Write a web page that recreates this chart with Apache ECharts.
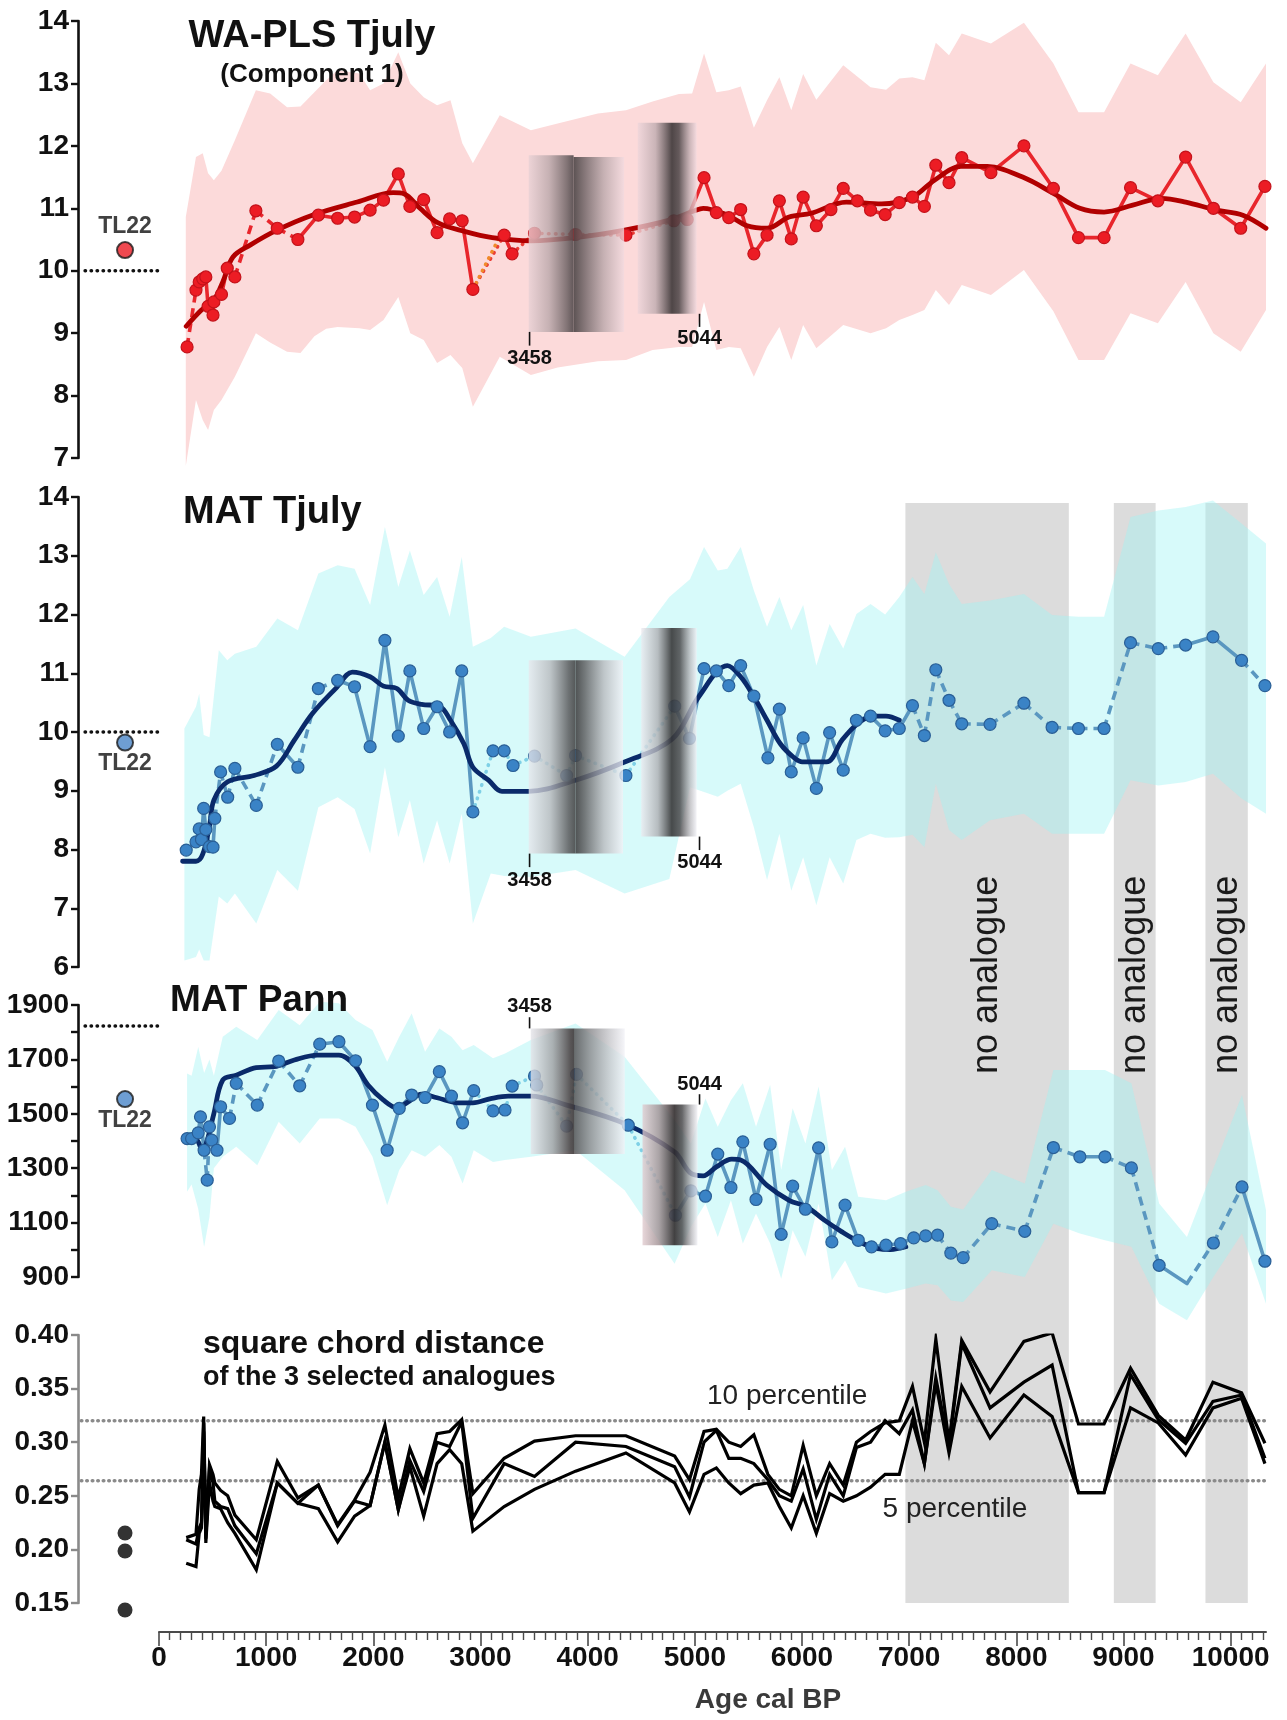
<!DOCTYPE html>
<html>
<head>
<meta charset="utf-8">
<title>TL22 pollen-based climate reconstructions</title>
<script src="https://cdn.jsdelivr.net/npm/echarts@6/dist/echarts.min.js"></script>
<style>
  html, body { margin: 0; padding: 0; background: #ffffff; }
  #chart { width: 1287px; height: 1720px; }
</style>
</head>
<body>
<div id="chart"></div>
<script>
// ================= Age axis =================
const AGE_MAX = 10330;
const ageMajorTicks = [0, 1000, 2000, 3000, 4000, 5000, 6000, 7000, 8000, 9000, 10000];

// ================= WA-PLS Tjuly (component 1) =================
const waAge = [262,345,375,408,437,458,504,512,583,637,708,904,1104,1296,1487,1667,1825,1970,2095,2233,2341,2470,2595,2712,2829,2929,3221,3295,3504,3887,4357,4804,4929,5086,5201,5317,5428,5551,5674,5789,5900,6011,6134,6270,6385,6517,6640,6776,6908,7031,7142,7249,7372,7491,7763,8071,8346,8580,8819,9066,9321,9580,9839,10094,10320];
const waVal = [8.78,9.69,9.82,9.87,9.90,9.43,9.29,9.50,9.62,10.04,9.90,10.96,10.68,10.50,10.89,10.84,10.86,10.97,11.13,11.55,11.03,11.14,10.61,10.83,10.80,9.70,10.57,10.27,10.60,10.58,10.57,10.80,10.82,11.49,10.93,10.85,10.98,10.27,10.57,11.12,10.51,11.18,10.72,10.98,11.32,11.12,10.97,10.90,11.09,11.18,11.03,11.69,11.41,11.81,11.57,12.00,11.32,10.53,10.53,11.33,11.12,11.82,11.00,10.68,11.35];
// link style between consecutive samples: s solid, d dashed, o dotted
const waLink = "dsssssssssdddssssssssssssosoooossssssssssssssssssssssssssssssssss";
const waAltAge = [2929, 3180];
const waAltVal = [9.70, 10.55];
const waSmAge = [254,396,512,595,690,850,1100,1430,1850,2185,2290,2435,2600,2850,3110,3470,3887,4345,4762,4996,5078,5304,5489,5674,5880,6085,6414,6743,7031,7236,7483,7730,8059,8346,8593,8819,9086,9353,9580,9867,10114,10330];
const waSmVal = [9.11,9.37,9.53,9.82,10.22,10.41,10.65,10.89,11.10,11.25,11.23,11.00,10.77,10.63,10.53,10.48,10.53,10.65,10.81,10.96,11.00,10.89,10.72,10.68,10.86,10.92,11.10,11.07,11.18,11.45,11.67,11.67,11.50,11.24,11.00,10.94,11.05,11.16,11.10,10.97,10.89,10.68];
const waBandAge = [250,345,408,458,512,583,708,904,1037,1195,1320,1450,1560,1666,1870,1970,2095,2233,2345,2470,2595,2720,2830,2929,3180,3470,3720,4095,4358,4606,4852,4975,5086,5201,5317,5428,5551,5674,5789,5900,6011,6134,6385,6640,6785,6908,7031,7142,7249,7372,7491,7763,8071,8346,8580,8819,9066,9321,9580,9839,10094,10330];
const waBandHi = [10.86,11.82,11.88,11.56,11.45,11.60,12.09,12.89,12.84,12.62,12.63,12.86,13.05,13.21,13.16,12.89,13.00,13.50,13.00,12.78,12.65,12.73,12.04,11.72,12.49,12.25,12.36,12.52,12.57,12.71,12.83,12.84,13.48,12.86,12.89,12.95,12.29,12.73,13.10,12.57,13.15,12.74,13.29,12.94,12.90,13.08,13.10,13.05,13.65,13.45,13.80,13.64,13.97,13.32,12.54,12.54,13.32,13.13,13.80,13.02,12.70,13.32];
const waBandLo = [6.87,7.93,7.61,7.45,7.77,7.93,8.30,9.00,8.85,8.70,8.68,8.95,9.07,9.10,9.08,9.05,9.21,9.58,9.00,8.89,8.52,8.65,8.44,7.82,8.62,8.33,8.45,8.55,8.57,8.73,8.78,8.78,9.50,8.73,8.78,8.76,8.30,8.78,9.10,8.57,9.13,8.76,9.13,9.00,9.08,9.21,9.29,9.37,9.69,9.45,9.77,9.61,10.01,9.35,8.57,8.57,9.32,9.16,9.82,9.00,8.70,9.37];

// ================= MAT Tjuly =================
const mtAge = [254,345,375,396,417,437,471,504,521,575,641,708,908,1104,1296,1487,1667,1825,1970,2108,2233,2341,2470,2595,2712,2825,2929,3117,3221,3304,3504,3804,3887,4357,4812,4950,5086,5201,5317,5428,5551,5682,5789,5900,6011,6134,6258,6385,6508,6640,6776,6908,7031,7142,7249,7372,7491,7755,8071,8334,8580,8819,9066,9325,9580,9835,10102,10320];
const mtVal = [7.99,8.13,8.35,8.17,8.70,8.34,8.05,8.04,8.53,9.32,8.89,9.38,8.75,9.79,9.40,10.74,10.88,10.77,9.75,11.56,9.93,11.04,10.06,10.43,10.00,11.04,8.64,9.68,9.68,9.43,9.59,9.26,9.60,9.26,10.44,9.89,11.08,11.04,10.79,11.13,10.61,9.56,10.39,9.32,9.90,9.04,9.99,9.35,10.20,10.27,10.02,10.06,10.45,9.94,11.06,10.54,10.14,10.13,10.49,10.08,10.06,10.06,11.52,11.42,11.48,11.62,11.22,10.79];
const mtLink = "ssssssssdddddsddssssssssssoooooooossssssssssssssssssddddddddddddssds";
const mtSmAge = [220,345,408,471,512,637,887,1096,1263,1430,1659,1804,1970,2095,2220,2325,2450,2616,2720,2845,2929,3075,3200,3450,3887,4345,4790,5037,5304,5428,5551,5674,5798,5921,6003,6229,6373,6517,6661,6784,6908];
const mtSmVal = [7.80,7.80,7.92,8.40,8.84,9.15,9.26,9.42,9.86,10.31,10.76,11.02,10.94,10.78,10.74,10.54,10.47,10.44,10.20,9.80,9.40,9.18,8.99,8.99,9.18,9.49,9.88,10.60,11.13,10.94,10.60,10.20,9.80,9.57,9.49,9.49,9.86,10.14,10.27,10.27,10.20];
const mtBandAge = [237,345,375,417,471,558,637,708,908,1104,1296,1487,1667,1825,1970,2108,2233,2341,2470,2595,2712,2825,2929,3096,3221,3470,3887,4345,4762,4955,5086,5214,5304,5428,5551,5674,5789,5900,6011,6134,6258,6385,6508,6640,6776,6908,7031,7142,7249,7372,7491,7755,8071,8334,8580,8819,9066,9325,9580,9835,10102,10330];
const mtBandHi = [10.06,10.43,10.65,9.95,9.91,11.39,11.22,11.33,11.45,11.93,11.73,12.70,12.84,12.78,12.16,13.49,12.47,13.09,12.33,12.64,11.96,12.98,11.45,11.60,11.79,11.62,11.76,11.28,12.30,12.60,13.15,12.75,12.78,13.15,12.41,11.79,12.30,11.73,12.16,11.13,11.84,11.42,12.01,12.18,12.00,12.30,12.64,12.35,13.06,12.52,12.18,12.24,12.35,11.99,11.96,11.96,13.66,13.77,13.83,13.94,13.55,13.21];
const mtBandLo = [6.11,6.17,6.30,6.11,6.11,7.20,7.08,7.25,6.74,7.65,7.30,8.72,8.89,8.69,7.93,9.40,8.21,8.84,7.76,8.50,7.76,8.61,6.74,7.59,7.55,7.53,7.65,7.25,7.50,9.06,8.98,8.90,9.00,9.12,8.38,7.48,8.27,7.30,7.87,7.05,7.87,7.42,8.16,8.27,8.20,8.21,8.25,8.04,9.12,8.33,8.16,8.50,8.61,8.27,8.27,8.27,9.18,9.09,9.15,9.29,8.87,8.61];

// ================= MAT Pann =================
const paAge = [262,304,366,387,421,450,471,492,541,575,658,721,917,1117,1313,1500,1679,1834,1992,2129,2242,2358,2483,2616,2729,2833,2937,3117,3229,3296,3504,3525,3804,3896,4379,4819,4963,5099,5214,5337,5448,5571,5703,5806,5913,6032,6155,6279,6402,6525,6649,6784,6920,7043,7154,7265,7389,7504,7771,8079,8346,8593,8827,9074,9333,9592,9839,10106,10320];
const paVal = [1409,1409,1430,1489,1366,1256,1452,1403,1366,1526,1483,1612,1532,1694,1603,1756,1765,1695,1532,1366,1520,1569,1560,1655,1565,1467,1585,1511,1514,1602,1639,1606,1455,1645,1458,1127,1217,1197,1352,1229,1397,1185,1388,1057,1234,1149,1375,1029,1164,1035,1011,1017,1023,1044,1051,1054,988,971,1096,1068,1376,1342,1342,1301,943,876,1025,1231,958];
const paLink = "ssssddsssddddddsssssssssssosooooooossssssssssssssssssssddddddsddsdds";
const paSmAge = [262,345,408,450,512,595,721,908,1075,1263,1479,1679,1825,1950,2095,2220,2325,2450,2595,2804,2929,3096,3263,3470,3804,4345,4811,4955,5078,5201,5345,5428,5674,5880,6044,6209,6373,6537,6702,6826,6969];
const paSmVal = [1409,1406,1366,1403,1501,1624,1642,1670,1673,1698,1716,1716,1679,1606,1550,1522,1544,1572,1559,1540,1540,1556,1565,1565,1532,1464,1360,1284,1272,1305,1333,1330,1237,1182,1158,1109,1066,1029,1004,1001,1011];
const paBandAge = [262,304,366,421,471,512,595,721,917,1117,1313,1500,1679,1834,1992,2129,2242,2358,2483,2616,2729,2833,2937,3117,3229,3470,3887,4345,4811,4963,5099,5214,5337,5448,5571,5703,5806,5913,6032,6155,6279,6402,6525,6784,6969,7154,7265,7389,7504,7771,8079,8346,8593,8827,9074,9333,9592,9839,10106,10330];
const paBandHi = [1648,1640,1746,1650,1700,1640,1783,1820,1771,1882,1826,1912,1906,1845,1808,1691,1783,1869,1728,1814,1783,1734,1753,1704,1722,1771,1832,1710,1477,1391,1556,1452,1550,1612,1452,1606,1293,1520,1391,1600,1293,1379,1195,1182,1213,1238,1219,1158,1148,1293,1244,1661,1661,1661,1612,1170,1047,1299,1569,1146];
const paBandLo = [1213,1240,1150,1010,1121,1300,1342,1379,1311,1471,1391,1483,1483,1452,1342,1164,1293,1366,1342,1385,1342,1244,1366,1323,1330,1342,1366,1219,949,1084,1170,1047,1182,1023,1133,1023,894,1072,974,1170,888,961,863,839,857,876,870,814,808,925,900,1096,1060,1035,1011,802,741,900,1060,802];

// ================= Square chord distance of the 3 analogues =================
const scdAge = [254,345,375,396,417,437,471,504,521,575,641,708,908,1104,1296,1487,1667,1825,1970,2108,2233,2341,2470,2595,2712,2825,2929,3221,3504,3887,4357,4812,4950,5086,5201,5317,5428,5551,5682,5789,5900,6011,6134,6258,6385,6508,6640,6776,6908,7031,7142,7249,7372,7491,7755,8071,8334,8580,8819,9066,9325,9580,9835,10102,10320];
const scd1 = [0.211,0.214,0.256,0.270,0.324,0.215,0.279,0.270,0.262,0.255,0.250,0.232,0.209,0.282,0.248,0.260,0.223,0.246,0.272,0.316,0.248,0.294,0.262,0.308,0.310,0.321,0.252,0.285,0.301,0.306,0.306,0.287,0.265,0.310,0.312,0.300,0.296,0.307,0.270,0.256,0.250,0.297,0.250,0.280,0.260,0.300,0.310,0.318,0.320,0.352,0.300,0.396,0.300,0.395,0.347,0.394,0.402,0.317,0.317,0.369,0.325,0.302,0.356,0.346,0.299];
const scd2 = [0.209,0.205,0.220,0.225,0.318,0.210,0.275,0.262,0.245,0.240,0.238,0.222,0.196,0.262,0.243,0.260,0.222,0.245,0.241,0.300,0.237,0.283,0.254,0.300,0.296,0.319,0.229,0.280,0.268,0.300,0.296,0.277,0.249,0.300,0.311,0.285,0.285,0.280,0.265,0.250,0.245,0.275,0.228,0.270,0.250,0.295,0.300,0.320,0.308,0.330,0.280,0.360,0.296,0.392,0.332,0.356,0.372,0.253,0.253,0.363,0.321,0.299,0.338,0.344,0.285];
const scd3 = [0.187,0.184,0.215,0.220,0.310,0.206,0.262,0.245,0.240,0.238,0.225,0.215,0.181,0.262,0.243,0.238,0.207,0.231,0.241,0.300,0.237,0.277,0.231,0.280,0.293,0.280,0.217,0.240,0.256,0.273,0.290,0.262,0.235,0.270,0.276,0.262,0.252,0.260,0.262,0.240,0.220,0.250,0.215,0.252,0.245,0.250,0.258,0.270,0.270,0.320,0.280,0.355,0.290,0.352,0.304,0.344,0.324,0.253,0.253,0.332,0.318,0.288,0.332,0.341,0.280];
const scdPct10 = 0.32;
const scdPct5 = 0.264;

// ================= Modern sample TL22 =================
const tlAge = -317;
const tlWa = 10.33, tlMt = 9.82, tlPa = 1554;
const tlScd = [0.2153, 0.1985, 0.1435];
const modernWa = 10.0, modernMt = 10.0, modernPa = 1823;
const modernSpan = [-690, 0];

// ================= Hiatus boundaries and no-analogue intervals =================
const hiatusAges = [3458, 5044];
const naFrom = [6965, 8910, 9765];
const naTo = [8490, 9300, 10160];

// ---------------------------------------------------------------
const FONT = '"Liberation Sans", Arial, Helvetica, sans-serif';
const zip = (a, b) => a.map((v, i) => [v, b[i]]);

const chart = echarts.init(document.getElementById('chart'), null, { renderer: 'canvas' });

const L = 159, R = 21;
const grid = [
  { left: L, right: R, top: 21,   height: 437 },
  { left: L, right: R, top: 497,  height: 470 },
  { left: L, right: R, top: 1005, height: 272 },
  { left: L, right: R, top: 1335, height: 268 },
  { left: L, right: R, top: 503,  height: 1100 }
];

const minorAgeTicks = [];
for (let a = 100; a < AGE_MAX; a += 100) if (a % 1000 !== 0) minorAgeTicks.push(a);

const xAxis = [0, 1, 2].map(i => ({ type: 'value', gridIndex: i, min: 0, max: AGE_MAX, show: false }));
xAxis.push({
  type: 'value', gridIndex: 3, min: 0, max: AGE_MAX, position: 'bottom', offset: 29,
  axisLine: { show: true, onZero: false, lineStyle: { color: '#4a4a4a', width: 2 } },
  axisTick: { show: true, customValues: ageMajorTicks, length: 14, lineStyle: { color: '#4a4a4a', width: 1.6 } },
  axisLabel: { show: true, customValues: ageMajorTicks, margin: 12, fontSize: 28, fontWeight: 'bold', fontFamily: FONT, color: '#111',
               formatter: v => String(v) },
  splitLine: { show: false }
});
xAxis.push({
  type: 'value', gridIndex: 4, min: 0, max: AGE_MAX, position: 'bottom', offset: 29,
  axisLine: { show: false, onZero: false },
  axisTick: { show: true, customValues: minorAgeTicks, length: 8, lineStyle: { color: '#4a4a4a', width: 1.4 } },
  axisLabel: { show: false },
  splitLine: { show: false }
});

function yAx(g, min, max, interval, fmt, color) {
  return {
    type: 'value', gridIndex: g, min, max, interval, position: 'left', offset: 81,
    axisLine: { show: true, onZero: false, lineStyle: { color, width: 2.6 } },
    axisTick: { show: true, length: 7, lineStyle: { color, width: 2.4 } },
    axisLabel: { margin: 9, fontSize: 28, fontWeight: 'bold', fontFamily: FONT, color: '#111', formatter: fmt },
    splitLine: { show: false }
  };
}
const yAxis = [
  yAx(0, 7, 14, 1, v => String(v), '#111'),
  yAx(1, 6, 14, 1, v => String(v), '#111'),
  yAx(2, 900, 1900, 100, v => ((v - 900) % 200 === 0 ? String(v) : ''), '#111'),
  yAx(3, 0.15, 0.40, 0.05, v => v.toFixed(2), '#8a8a8a'),
  { type: 'value', gridIndex: 4, min: 0, max: 1, show: false }
];

// ---------- series builders ----------
function bandSeries(g, ages, hi, lo, fill) {
  return {
    type: 'custom', xAxisIndex: g, yAxisIndex: g, z: 1, silent: true, clip: false,
    data: [[ages[0], hi[0]]],
    renderItem(params, api) {
      const pts = [];
      for (let i = 0; i < ages.length; i++) pts.push(api.coord([ages[i], hi[i]]));
      for (let i = ages.length - 1; i >= 0; i--) pts.push(api.coord([ages[i], lo[i]]));
      return { type: 'polygon', shape: { points: pts }, style: { fill } };
    }
  };
}

function linkSeries(g, ages, vals, links, colors, width) {
  const data = [];
  for (let i = 0; i < ages.length - 1; i++) {
    data.push([ages[i], vals[i], ages[i + 1], vals[i + 1], 'sdo'.indexOf(links[i])]);
  }
  return {
    type: 'custom', xAxisIndex: g, yAxisIndex: g, z: 3, silent: true,
    encode: { x: [0, 2], y: [1, 3] },
    data,
    renderItem(params, api) {
      const a = api.coord([api.value(0), api.value(1)]);
      const b = api.coord([api.value(2), api.value(3)]);
      const k = api.value(4);
      const style = { stroke: colors[k], lineWidth: width, lineCap: k === 1 ? 'butt' : 'round' };
      if (k === 1) style.lineDash = [9, 6];
      if (k === 2) style.lineDash = [0.5, 6.5];
      return { type: 'line', shape: { x1: a[0], y1: a[1], x2: b[0], y2: b[1] }, style };
    }
  };
}

// horizontal dotted reference line between two ages
function hLine(g, x0, x1, val, color, width, dash, z) {
  return {
    type: 'custom', xAxisIndex: g, yAxisIndex: g, z: z || 2, silent: true, clip: false,
    encode: { x: [0, 1], y: 2 },
    data: [[x0, x1, val]],
    renderItem(params, api) {
      const a = api.coord([api.value(0), api.value(2)]);
      const b = api.coord([api.value(1), api.value(2)]);
      return { type: 'line', shape: { x1: a[0], y1: a[1], x2: b[0], y2: b[1] },
               style: { stroke: color, lineWidth: width, lineDash: dash, lineCap: 'round' } };
    }
  };
}

function smoothSeries(g, ages, vals, color) {
  return {
    type: 'line', xAxisIndex: g, yAxisIndex: g, z: 4, silent: true,
    data: zip(ages, vals), showSymbol: false, smooth: 0.35,
    lineStyle: { color, width: 4.8, cap: 'round', join: 'round' }
  };
}

function pointSeries(g, ages, vals, fill, border, size) {
  return {
    type: 'scatter', xAxisIndex: g, yAxisIndex: g, z: 5, silent: true,
    data: zip(ages, vals), symbolSize: size,
    itemStyle: { color: fill, borderColor: border, borderWidth: 1.2, opacity: 1 }
  };
}

function shadeSeries(g, bars) {
  return {
    type: 'custom', xAxisIndex: g, yAxisIndex: g, z: 6, silent: true,
    encode: { x: [0, 2], y: [1, 3] },
    data: bars.map(b => [b.from, b.lo, b.to, b.hi]),
    renderItem(params, api) {
      const b = bars[params.dataIndex];
      const p0 = api.coord([b.from, b.hi]);
      const p1 = api.coord([b.to, b.lo]);
      return {
        type: 'rect',
        shape: { x: p0[0], y: p0[1], width: p1[0] - p0[0], height: p1[1] - p0[1] },
        style: {
          fill: { type: 'linear', x: 0, y: 0, x2: 1, y2: 0, global: false,
                  colorStops: b.stops.map(s => ({ offset: s[0], color: s[1] })) }
        }
      };
    }
  };
}

function hiatusMarks(g, marks) {
  return {
    type: 'custom', xAxisIndex: g, yAxisIndex: g, z: 7, silent: true, clip: false,
    data: marks.map(m => [m.age, m.label]),
    renderItem(params, api) {
      const m = marks[params.dataIndex];
      const a = api.coord([m.age, m.from]);
      const b = api.coord([m.age, m.to]);
      const t = api.coord([m.age, m.label]);
      return {
        type: 'group',
        children: [
          { type: 'line', shape: { x1: a[0], y1: a[1], x2: b[0], y2: b[1] }, style: { stroke: '#111', lineWidth: 1.6 } },
          { type: 'text', x: t[0], y: t[1],
            style: { text: String(m.age), font: 'bold 20px ' + FONT, fill: '#111',
                     align: 'center', verticalAlign: 'middle', textAlign: 'center', textVerticalAlign: 'middle' } }
        ]
      };
    }
  };
}

function textMarks(g, items) {
  return {
    type: 'custom', xAxisIndex: g, yAxisIndex: g, z: 9, silent: true, clip: false,
    data: items.map(it => [it.x, it.y]),
    renderItem(params, api) {
      const it = items[params.dataIndex];
      const p = api.coord([it.x, it.y]);
      return {
        type: 'text', x: p[0], y: p[1], rotation: it.rotate || 0,
        style: { text: it.text, font: it.font, fill: it.color || '#111',
                 align: 'center', verticalAlign: 'middle', textAlign: 'center', textVerticalAlign: 'middle' }
      };
    }
  };
}

function tlPoint(g, val, fill, labelPos) {
  return {
    type: 'scatter', xAxisIndex: g, yAxisIndex: g, z: 6, silent: true, clip: false,
    data: [[tlAge, val]], symbolSize: 16,
    itemStyle: { color: fill, borderColor: '#1a1a1a', borderWidth: 2 },
    label: labelPos ? { show: true, position: labelPos, distance: labelPos === 'top' ? 3 : 1, formatter: 'TL22',
      fontSize: 23, fontWeight: 'bold', fontFamily: FONT, color: '#111' } : { show: false }
  };
}

// ---------- grey hiatus shading (light edge -> dark core) ----------
const warm = (r, a) => `rgba(${r},${Math.round(r * 0.9)},${Math.round(r * 0.92)},${a})`;
const cool = (r, a) => `rgba(${r},${r},${Math.min(255, Math.round(r * 1.02))},${a})`;

const waShades = [
  { from: 3450, to: 3869, lo: 9.02, hi: 11.85, stops: [[0, warm(232, 0.78)], [0.45, warm(185, 0.8)], [0.85, warm(110, 0.86)], [1, warm(80, 0.9)]] },
  { from: 3869, to: 4340, lo: 9.02, hi: 11.82, stops: [[0, warm(75, 0.9)], [0.2, warm(110, 0.86)], [0.6, warm(185, 0.8)], [1, warm(242, 0.78)]] },
  { from: 4467, to: 5017, lo: 9.31, hi: 12.37, stops: [[0, warm(238, 0.78)], [0.3, warm(190, 0.8)], [0.58, warm(60, 0.9)], [0.7, warm(80, 0.88)], [0.88, warm(190, 0.8)], [1, warm(242, 0.78)]] }
];
const mtShades = [
  { from: 3450, to: 3887, lo: 7.93, hi: 11.22, stops: [[0, cool(232, 0.78)], [0.45, cool(185, 0.8)], [0.85, cool(95, 0.88)], [1, cool(70, 0.9)]] },
  { from: 3887, to: 4330, lo: 7.93, hi: 11.22, stops: [[0, cool(65, 0.9)], [0.2, cool(100, 0.86)], [0.6, cool(185, 0.8)], [1, cool(242, 0.78)]] },
  { from: 4500, to: 5017, lo: 8.22, hi: 11.77, stops: [[0, cool(235, 0.78)], [0.3, cool(175, 0.82)], [0.55, cool(55, 0.9)], [0.7, cool(80, 0.88)], [0.88, cool(185, 0.8)], [1, cool(240, 0.78)]] }
];
const paShades = [
  { from: 3469, to: 3880, lo: 1352, hi: 1814, stops: [[0, cool(228, 0.78)], [0.5, cool(160, 0.82)], [0.9, warm(75, 0.9)], [1, warm(60, 0.9)]] },
  { from: 3880, to: 4346, lo: 1352, hi: 1814, stops: [[0, cool(90, 0.88)], [0.3, cool(140, 0.84)], [0.7, cool(200, 0.8)], [1, cool(242, 0.78)]] },
  { from: 4512, to: 5025, lo: 1017, hi: 1534, stops: [[0, warm(225, 0.78)], [0.3, warm(160, 0.82)], [0.58, warm(50, 0.9)], [0.72, cool(80, 0.88)], [0.9, cool(190, 0.8)], [1, cool(240, 0.78)]] }
];

const waMarks = [
  { age: hiatusAges[0], from: 9.02, to: 8.80, label: 8.60 },
  { age: hiatusAges[1], from: 9.31, to: 9.10, label: 8.92 }
];
const mtMarks = [
  { age: hiatusAges[0], from: 7.93, to: 7.70, label: 7.48 },
  { age: hiatusAges[1], from: 8.22, to: 7.99, label: 7.78 }
];
const paMarks = [
  { age: hiatusAges[0], from: 1814, to: 1855, label: 1893 },
  { age: hiatusAges[1], from: 1534, to: 1572, label: 1606 }
];

// ---------- assemble ----------
const BLUE_LINK = ['#5a97c0', '#5a97c0', '#7fd0e6'];
const DOT = [0.5, 6.5];
const series = [
  // no-analogue intervals spanning the MAT panels
  {
    type: 'custom', xAxisIndex: 4, yAxisIndex: 4, z: 0, silent: true,
    encode: { x: [0, 1] },
    data: naFrom.map((f, i) => [f, naTo[i]]),
    renderItem(params, api) {
      const a = api.coord([api.value(0), 1]);
      const b = api.coord([api.value(1), 0]);
      return { type: 'rect', shape: { x: a[0], y: a[1], width: b[0] - a[0], height: b[1] - a[1] }, style: { fill: '#dcdcdc' } };
    }
  },
  textMarks(4, naFrom.map((f, i) => ({ x: (f + naTo[i]) / 2, y: 0.571, text: 'no analogue', font: '36px ' + FONT, color: '#1a1a1a', rotate: Math.PI / 2 }))),

  // WA-PLS
  bandSeries(0, waBandAge, waBandHi, waBandLo, '#fcdada'),
  linkSeries(0, waAge, waVal, waLink, ['#e8262c', '#e8262c', '#ea3d35'], 3.6),
  { type: 'line', xAxisIndex: 0, yAxisIndex: 0, z: 3, silent: true, showSymbol: false,
    data: zip(waAltAge, waAltVal), lineStyle: { color: '#f08a2a', width: 3.6, type: DOT, cap: 'round' } },
  smoothSeries(0, waSmAge, waSmVal, '#b10000'),
  pointSeries(0, waAge, waVal, '#ec1c24', '#c4121a', 12),
  shadeSeries(0, waShades),
  hiatusMarks(0, waMarks),
  hLine(0, modernSpan[0], modernSpan[1], modernWa, '#111', 3.4, [0.5, 5.5], 5),
  tlPoint(0, tlWa, '#ec1c24', 'top'),

  // MAT Tjuly
  bandSeries(1, mtBandAge, mtBandHi, mtBandLo, 'rgba(160,242,242,0.42)'),
  linkSeries(1, mtAge, mtVal, mtLink, BLUE_LINK, 3.6),
  smoothSeries(1, mtSmAge, mtSmVal, '#0a2a6a'),
  pointSeries(1, mtAge, mtVal, '#3a83c6', '#2a5f96', 12),
  shadeSeries(1, mtShades),
  hiatusMarks(1, mtMarks),
  hLine(1, modernSpan[0], modernSpan[1], modernMt, '#111', 3.4, [0.5, 5.5], 5),
  tlPoint(1, tlMt, '#4a86c8', 'bottom'),

  // MAT Pann
  bandSeries(2, paBandAge, paBandHi, paBandLo, 'rgba(160,242,242,0.42)'),
  linkSeries(2, paAge, paVal, paLink, BLUE_LINK, 3.6),
  smoothSeries(2, paSmAge, paSmVal, '#0a2a6a'),
  pointSeries(2, paAge, paVal, '#3a83c6', '#2a5f96', 12),
  shadeSeries(2, paShades),
  hiatusMarks(2, paMarks),
  hLine(2, modernSpan[0], modernSpan[1], modernPa, '#111', 3.4, [0.5, 5.5], 5),
  tlPoint(2, tlPa, '#4a86c8', 'bottom'),

  // square chord distance
  hLine(3, -725, AGE_MAX, scdPct10, '#8a8a8a', 3.6, [0.5, 5], 2),
  hLine(3, -725, AGE_MAX, scdPct5, '#8a8a8a', 3.6, [0.5, 5], 2),
  textMarks(3, [
    { x: 5862, y: 0.343, text: '10 percentile', font: '28px ' + FONT, color: '#222' },
    { x: 7427, y: 0.2375, text: '5 percentile', font: '28px ' + FONT, color: '#222' }
  ]),
  ...[scd1, scd2, scd3].map(v => ({
    type: 'line', xAxisIndex: 3, yAxisIndex: 3, z: 4, silent: true, showSymbol: false,
    data: zip(scdAge, v), lineStyle: { color: '#000', width: 3.2, join: 'miter' }
  })),
  { type: 'scatter', xAxisIndex: 3, yAxisIndex: 3, z: 6, silent: true, clip: false,
    data: tlScd.map(v => [tlAge, v]), symbolSize: 15, itemStyle: { color: '#000' } }
];

const titleStyle = (text, size, x, y, align) => ({
  type: 'text', x, y, z: 20, silent: true,
  style: { text, font: `bold ${size}px ${FONT}`, fill: '#111',
           align: align || 'left', verticalAlign: 'middle', textAlign: align || 'left', textVerticalAlign: 'middle' }
});

chart.setOption({
  animation: false,
  backgroundColor: '#ffffff',
  grid,
  xAxis,
  yAxis,
  series,
  graphic: [
    titleStyle('WA-PLS Tjuly', 38, 312, 37, 'center'),
    titleStyle('(Component 1)', 26, 312, 75, 'center'),
    titleStyle('MAT Tjuly', 38, 183, 513),
    titleStyle('MAT Pann', 37, 170, 1001),
    titleStyle('square chord distance', 32, 203, 1344),
    titleStyle('of the 3 selected analogues', 27, 203, 1378),
    { type: 'text', x: 768, y: 1700, z: 20, silent: true,
      style: { text: 'Age cal BP', font: `bold 28px ${FONT}`, fill: '#3a3a3a',
               align: 'center', verticalAlign: 'middle', textAlign: 'center', textVerticalAlign: 'middle' } }
  ]
});
</script>
</body>
</html>
